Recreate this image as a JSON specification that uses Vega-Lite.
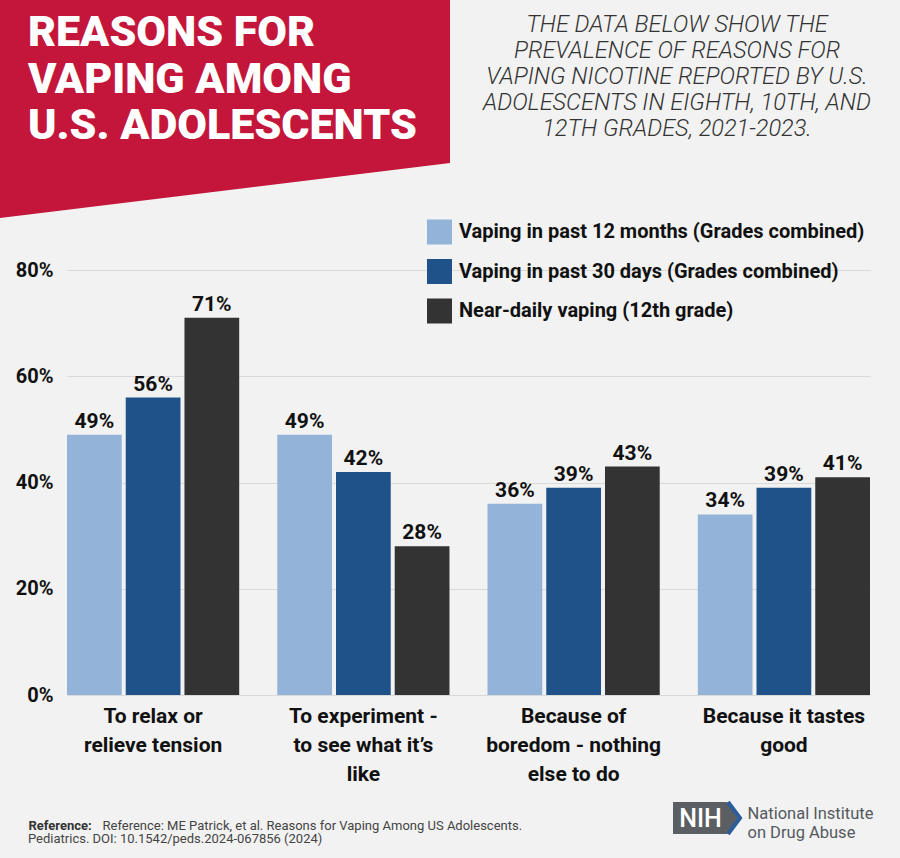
{
  "$schema": "https://vega.github.io/schema/vega-lite/v6.json",
  "width": 803,
  "height": 425,
  "autosize": {"type": "none"},
  "padding": {"left": 67, "top": 270, "right": 30, "bottom": 163},
  "background": "#f2f2f2",
  "config": {"font": "Roboto", "view": {"stroke": null}},
  "title": {
    "text": ["REASONS FOR", "VAPING AMONG", "U.S. ADOLESCENTS"],
    "subtitle": "Pediatrics. DOI: 10.1542/peds.2024-067856 (2024)",
    "anchor": "start",
    "frame": "group",
    "orient": "top",
    "color": "#ffffff",
    "font": "Roboto",
    "fontSize": 43,
    "fontWeight": 900,
    "lineHeight": 46.5,
    "subtitleFont": "Roboto",
    "subtitleFontSize": 13,
    "subtitleFontWeight": "normal",
    "subtitleColor": "#444444",
    "subtitlePadding": 685,
    "dx": -39,
    "dy": 846,
    "offset": 0,
    "zindex": 1
  },
  "layer": [
    {
      "layer": [
        {
          "data": {"values": [
            {"px": 0, "py": 0, "py2": 218},
            {"px": 450, "py": 0, "py2": 163}
          ]},
          "mark": {"type": "area", "color": "#c3163a", "interpolate": "linear"},
          "encoding": {
            "x": {"field": "px", "type": "quantitative", "scale": {"domain": [67, 870], "nice": false, "zero": false},
              "axis": {"orient": "top", "labels": false, "ticks": false, "domain": false, "grid": false, "zindex": 1,
                "title": "NIH", "titleX": 633, "titleY": 548, "titleAngle": 0, "titleAlign": "center", "titleBaseline": "middle",
                "titleColor": "#ffffff", "titleFontSize": 25, "titleFontWeight": 500, "titleFont": "Roboto"}},
            "y": {"field": "py", "type": "quantitative", "scale": {"domain": [695, 270], "nice": false, "zero": false},
              "axis": {"orient": "right", "labels": false, "ticks": false, "domain": false, "grid": false, "zindex": 1,
                "title": ["National Institute", "on Drug Abuse"], "titleX": -123, "titleY": 548.5, "titleAngle": 0,
                "titleAlign": "left", "titleBaseline": "alphabetic", "titleLineHeight": 18.5, "titleColor": "#55595e",
                "titleFontSize": 16.5, "titleFontWeight": "normal", "titleFont": "Roboto"}},
            "y2": {"field": "py2"}
          }
        },
        {
          "data": {"values": [
            {"px": 673, "py": 802, "py2": 834},
            {"px": 727, "py": 802, "py2": 834},
            {"px": 738, "py": 818, "py2": 818}
          ]},
          "mark": {"type": "area", "color": "#5b5f63", "interpolate": "linear"},
          "encoding": {
            "x": {"field": "px", "type": "quantitative"},
            "y": {"field": "py", "type": "quantitative"},
            "y2": {"field": "py2"}
          }
        },
        {
          "data": {"values": [
            {"step": 1, "px": 728, "py": 802},
            {"step": 2, "px": 740, "py": 818},
            {"step": 3, "px": 728, "py": 834}
          ]},
          "mark": {"type": "line", "color": "#2b5c9c", "strokeWidth": 4},
          "encoding": {
            "x": {"field": "px", "type": "quantitative"},
            "y": {"field": "py", "type": "quantitative"},
            "order": {"field": "step", "type": "quantitative"}
          }
        }
      ]
    },
    {
      "data": {"values": [
        {"reason": "To relax or relieve tension", "series": "Vaping in past 12 months (Grades combined)", "value": 0.49},
        {"reason": "To relax or relieve tension", "series": "Vaping in past 30 days (Grades combined)", "value": 0.56},
        {"reason": "To relax or relieve tension", "series": "Near-daily vaping (12th grade)", "value": 0.71},
        {"reason": "To experiment - to see what it’s like", "series": "Vaping in past 12 months (Grades combined)", "value": 0.49},
        {"reason": "To experiment - to see what it’s like", "series": "Vaping in past 30 days (Grades combined)", "value": 0.42},
        {"reason": "To experiment - to see what it’s like", "series": "Near-daily vaping (12th grade)", "value": 0.28},
        {"reason": "Because of boredom - nothing else to do", "series": "Vaping in past 12 months (Grades combined)", "value": 0.36},
        {"reason": "Because of boredom - nothing else to do", "series": "Vaping in past 30 days (Grades combined)", "value": 0.39},
        {"reason": "Because of boredom - nothing else to do", "series": "Near-daily vaping (12th grade)", "value": 0.43},
        {"reason": "Because it tastes good", "series": "Vaping in past 12 months (Grades combined)", "value": 0.34},
        {"reason": "Because it tastes good", "series": "Vaping in past 30 days (Grades combined)", "value": 0.39},
        {"reason": "Because it tastes good", "series": "Near-daily vaping (12th grade)", "value": 0.41}
      ]},
      "encoding": {
        "x": {
          "field": "reason", "type": "nominal",
          "sort": ["To relax or relieve tension", "To experiment - to see what it’s like", "Because of boredom - nothing else to do", "Because it tastes good"],
          "scale": {"paddingInner": 0.181, "paddingOuter": 0},
          "axis": {
            "orient": "bottom", "labelAngle": 0, "ticks": false, "domain": false, "grid": false,
            "labelFontSize": 21, "labelFontWeight": "bold", "labelColor": "#111111", "labelLineHeight": 29,
            "labelPadding": 10, "labelBaseline": "top", "labelLimit": 300,
            "labelExpr": "datum.label == 'To relax or relieve tension' ? ['To relax or', 'relieve tension'] : datum.label == 'Because it tastes good' ? ['Because it tastes', 'good'] : datum.label == 'Because of boredom - nothing else to do' ? ['Because of', 'boredom - nothing', 'else to do'] : ['To experiment -', 'to see what it’s', 'like']",
            "title": "Reference: ME Patrick, et al. Reasons for Vaping Among US Adolescents.",
            "titleX": 35, "titleY": 134, "titleAlign": "left", "titleAnchor": "start", "titleBaseline": "alphabetic",
            "titleFontSize": 13, "titleFontWeight": "normal", "titleColor": "#444444"
          }
        },
        "xOffset": {
          "field": "series", "type": "nominal",
          "sort": ["Vaping in past 12 months (Grades combined)", "Vaping in past 30 days (Grades combined)", "Near-daily vaping (12th grade)"],
          "scale": {"paddingInner": 0.068, "paddingOuter": 0}
        },
        "y": {
          "field": "value", "type": "quantitative",
          "scale": {"domain": [0, 0.8], "nice": false},
          "axis": {
            "orient": "left", "values": [0, 0.2, 0.4, 0.6, 0.8], "format": ".0%",
            "ticks": false, "domain": false, "grid": true, "gridColor": "#d9d9d9", "gridWidth": 1,
            "labelFontSize": 20, "labelFontWeight": "bold", "labelColor": "#111111", "labelPadding": 14,
            "title": "Reference:", "titleX": -39, "titleY": 559, "titleAngle": 0, "titleAlign": "left",
            "titleBaseline": "alphabetic", "titleFontSize": 13, "titleFontWeight": "bold", "titleColor": "#333333"
          }
        }
      },
      "layer": [
        {
          "mark": {"type": "bar"},
          "encoding": {
            "color": {
              "field": "series", "type": "nominal",
              "scale": {
                "domain": ["Vaping in past 12 months (Grades combined)", "Vaping in past 30 days (Grades combined)", "Near-daily vaping (12th grade)"],
                "range": ["#93b4d8", "#1f5288", "#333333"]
              },
              "legend": {
                "orient": "none", "legendX": 360, "legendY": -257, "direction": "vertical", "padding": 0,
                "symbolType": "square", "symbolSize": 625, "symbolStrokeWidth": 0, "symbolOpacity": 1,
                "labelFontSize": 20, "labelFontWeight": "bold", "labelColor": "#111111", "labelOffset": 7,
                "labelLimit": 500, "rowPadding": 14.5,
                "title": ["THE DATA BELOW SHOW THE", "PREVALENCE OF REASONS FOR", "VAPING NICOTINE REPORTED BY U.S.", "ADOLESCENTS IN EIGHTH, 10TH, AND", "12TH GRADES, 2021-2023."],
                "titleFontStyle": "italic", "titleFontWeight": 300, "titleFontSize": 23.5, "titleLineHeight": 26,
                "titleColor": "#333333", "titleAlign": "center", "titleAnchor": "middle", "titlePadding": 79,
                "titleLimit": 1000,
                "encode": {"title": {"update": {"dx": {"value": 31}}}}
              }
            }
          }
        },
        {
          "mark": {"type": "text", "baseline": "middle", "dy": -13, "fontSize": 21, "fontWeight": "bold", "color": "#111111"},
          "encoding": {
            "text": {"field": "value", "type": "quantitative", "format": ".0%"}
          }
        }
      ]
    }
  ],
  "resolve": {"scale": {"x": "independent", "y": "independent"}}
}
